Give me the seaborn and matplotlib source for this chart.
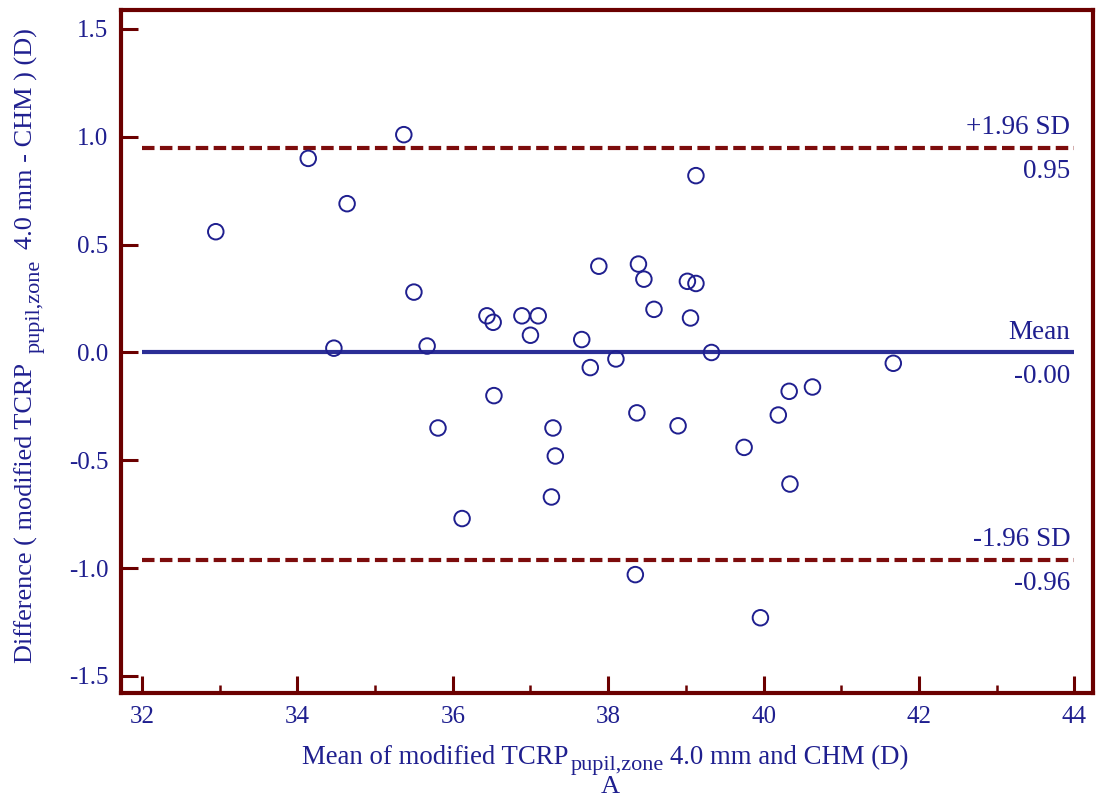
import numpy as np
import pandas as pd
import seaborn as sns
import matplotlib.pyplot as plt
from matplotlib.ticker import MultipleLocator, FormatStrFormatter

# Bland-Altman data
mean_vals = [32.95, 34.14, 34.64, 35.37, 34.47, 35.50, 35.67, 35.81, 36.12, 36.44,
             36.52, 36.53, 36.89, 37.10, 37.00, 37.29, 37.32, 37.27, 37.66, 37.77,
             37.88, 38.10, 38.39, 38.46, 38.59, 38.37, 38.35, 38.90, 39.02, 39.13,
             39.06, 39.13, 39.33, 39.75, 39.96, 40.19, 40.33, 40.34, 40.63, 41.67]
diff_vals = [0.56, 0.90, 0.69, 1.01, 0.02, 0.28, 0.03, -0.35, -0.77, 0.17,
             0.14, -0.20, 0.17, 0.17, 0.08, -0.35, -0.48, -0.67, 0.06, -0.07,
             0.40, -0.03, 0.41, 0.34, 0.20, -0.28, -1.03, -0.34, 0.33, 0.32,
             0.16, 0.82, 0.00, -0.44, -1.23, -0.29, -0.18, -0.61, -0.16, -0.05]

mean_diff = -0.00
upper_loa = 0.95
lower_loa = -0.96
line_labels = ["+1.96 SD", "Mean", "-1.96 SD"]
value_labels = ["0.95", "-0.00", "-0.96"]

navy = "#1f1f8f"
maroon = "#6b0000"
dash_red = "#7d0c0c"
blue_line = "#2b2e96"

sns.set_theme(style="white")
plt.rcParams['font.family'] = ['Liberation Serif', 'DejaVu Serif']
plt.rcParams['axes.unicode_minus'] = False

df = pd.DataFrame({"mean": mean_vals, "diff": diff_vals})

fig = plt.figure(figsize=(11.02, 8.01), dpi=100)
ax = fig.add_axes([0.1098, 0.1348, 0.882, 0.8527])

ax.hlines(upper_loa, 32, 44, colors=dash_red, linewidth=3, linestyles=(0, (3.0, 1.3)))
ax.hlines(lower_loa, 32, 44, colors=dash_red, linewidth=3, linestyles=(0, (3.0, 1.3)))
ax.hlines(mean_diff, 32, 44, colors=blue_line, linewidth=3)

sns.scatterplot(data=df, x="mean", y="diff", ax=ax, marker="o", s=125,
                facecolor="none", edgecolor=navy, linewidth=1.4, zorder=3)

for yv, top, bot in zip([upper_loa, mean_diff, lower_loa], line_labels, value_labels):
    ax.annotate(top, (43.95, yv), xytext=(0, 10), textcoords="offset points",
                ha="right", va="baseline", fontsize=19.5, color=navy)
    ax.annotate(bot, (43.95, yv), xytext=(0, -22), textcoords="offset points",
                ha="right", va="baseline", fontsize=19.5, color=navy)

ax.set_xlim(31.73, 44.24)
ax.set_ylim(-1.579, 1.588)
ax.xaxis.set_major_locator(MultipleLocator(2))
ax.xaxis.set_minor_locator(MultipleLocator(1))
ax.yaxis.set_major_locator(MultipleLocator(0.5))
ax.yaxis.set_major_formatter(FormatStrFormatter('%.1f'))
ax.set_xlabel("")
ax.set_ylabel("")

for sp in ax.spines.values():
    sp.set_color(maroon)
    sp.set_linewidth(3)

ax.tick_params(axis="both", which="major", direction="in", length=12, width=2.2,
               color=maroon, labelcolor=navy, labelsize=18, pad=9)
ax.tick_params(axis="x", which="minor", direction="in", length=6, width=1.8,
               color=maroon, bottom=True)
ax.tick_params(top=False, right=False, left=True, bottom=True)

# x label, built in pieces so the subscript can be larger than mathtext allows
W, H = 1102, 801
main_fs, sub_fs = 19.3, 16
t1 = fig.text(302 / W, 1 - 764 / H, "Mean of modified TCRP", fontsize=main_fs,
              color=navy, ha="left", va="baseline")
t2 = ax.annotate("pupil,zone", xy=(1, 1 - 770 / H), xycoords=(t1, "figure fraction"),
                 xytext=(2, 0), textcoords="offset pixels", fontsize=sub_fs,
                 color=navy, ha="left", va="baseline", annotation_clip=False)
ax.annotate("4.0 mm and CHM (D)", xy=(1, 1 - 764 / H), xycoords=(t2, "figure fraction"),
            xytext=(6, 0), textcoords="offset pixels", fontsize=main_fs,
            color=navy, ha="left", va="baseline", annotation_clip=False)

# y label, rotated pieces
ylab_fs = 18.9
u1 = fig.text(33 / W, 1 - 663 / H, "Difference ( modified TCRP", fontsize=ylab_fs,
              color=navy, rotation=90, rotation_mode="anchor", ha="left", va="baseline")
u2 = ax.annotate("pupil,zone", xy=(40 / W, 1), xycoords=("figure fraction", u1),
                 xytext=(0, 10), textcoords="offset pixels", fontsize=sub_fs,
                 color=navy, rotation=90, rotation_mode="anchor",
                 ha="left", va="baseline", annotation_clip=False)
ax.annotate("4.0 mm - CHM ) (D)", xy=(33 / W, 1), xycoords=("figure fraction", u2),
            xytext=(0, 11), textcoords="offset pixels", fontsize=ylab_fs,
            color=navy, rotation=90, rotation_mode="anchor",
            ha="left", va="baseline", annotation_clip=False)

fig.text(0.5535, 1 - 787 / H, "A", ha="center", va="center", fontsize=19, color=navy)

fig.savefig("out.png", dpi=100)
